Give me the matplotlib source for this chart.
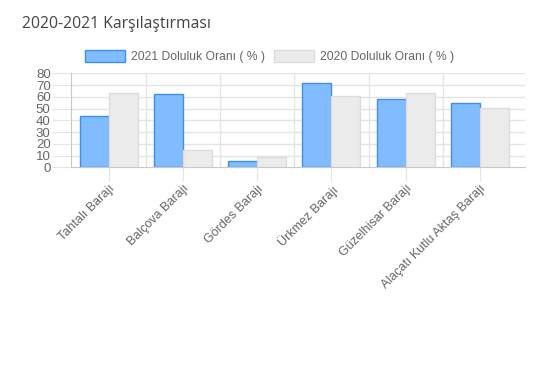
import matplotlib.pyplot as plt
import numpy as np

# veriler
barajlar = ['Tahtalı Barajı', 'Balçova Barajı', 'Gördes Barajı', 'Ürkmez Barajı',
            'Güzelhisar Barajı', 'Alaçatı Kutlu Aktaş Barajı']
doluluk_2021 = [44, 62, 5, 71.5, 58, 54.5]
doluluk_2020 = [63.5, 15, 9, 61, 63, 50.5]
seriler = ['2021 Doluluk Oranı ( % )', '2020 Doluluk Oranı ( % )']
yticks = [0, 10, 20, 30, 40, 50, 60, 70, 80]

plt.rcParams['font.family'] = ['Liberation Sans', 'DejaVu Sans']

fig = plt.figure(figsize=(5.54, 3.69), dpi=100)
ax = fig.add_axes([0.129, 0.5466, 0.819, 0.2548])

x = np.arange(len(barajlar))
w = 0.39
ax.bar(x - w/2, doluluk_2021, w, color='#80bcff', edgecolor='#3d8fe8', linewidth=1, label=seriler[0], zorder=3)
ax.bar(x + w/2, doluluk_2020, w, color='#ebebeb', edgecolor='#dcdcdc', linewidth=1, label=seriler[1], zorder=3)

ax.set_ylim(0, 80)
ax.set_xlim(-0.5, 5.61)
ax.set_yticks(yticks)
ax.set_xticks(x)
ax.set_xticklabels(barajlar, rotation=45, ha='right', rotation_mode='anchor')

# grid çizgileri kategori sınırlarında
for b in np.arange(0.5, len(barajlar) - 0.5):
    ax.axvline(b, color='#e4e4e4', linewidth=1, zorder=1)
for y in yticks[1:]:
    ax.axhline(y, color='#e4e4e4', linewidth=1, zorder=1)

for s in ['top', 'right']:
    ax.spines[s].set_visible(False)
ax.spines['left'].set_color('#c8c8c8')
ax.spines['bottom'].set_color('#c8c8c8')
ax.tick_params(axis='y', length=14, color='#e4e4e4', labelsize=9.5, labelcolor='#666666', pad=1)
ax.tick_params(axis='x', length=10, color='#e4e4e4', labelsize=9, labelcolor='#666666', pad=1)

fig.text(0.04, 0.935, '2020-2021 Karşılaştırması', fontsize=11.3, color='#444444',
         family=['Open Sans', 'DejaVu Sans'], va='center')

ax.legend(loc='center', bbox_to_anchor=(0.437, 1.18), ncol=2, frameon=False,
          fontsize=8.7, labelcolor='#666666', handlelength=3.3, handleheight=1.1,
          columnspacing=0.75, handletextpad=0.5, borderaxespad=0)

fig.savefig('out.png', dpi=100)
plt.close()
